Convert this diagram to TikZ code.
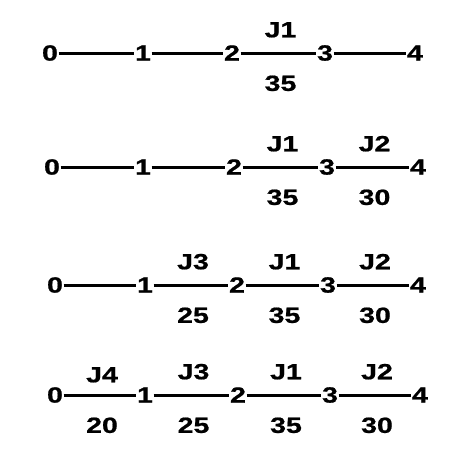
\documentclass[tikz,border=0pt]{standalone}
\usepackage{fontspec}
\setmainfont{Liberation Sans}[FakeStretch=1.3, BoldFeatures={FakeBold=0.8}]
\usepackage{tikz}
\usetikzlibrary{positioning}

\begin{document}
\begin{tikzpicture}[
    x=1pt, y=-1pt,
    event/.style={inner sep=0.5pt, font=\fontsize{22}{26}\selectfont\bfseries},
    job/.style={above=14pt, inner sep=0pt, xshift=2pt, font=\fontsize{22}{26}\selectfont\bfseries},
    dur/.style={below=21pt, inner sep=0pt, xshift=2pt, font=\fontsize{22}{26}\selectfont\bfseries},
    act/.style={line width=3pt}
]
\useasboundingbox (0,0) rectangle (474,463);

% schedule with J1
\node[event] (a0) at (50, 53) {0};
\node[event] (a1) at (143, 53) {1};
\node[event] (a2) at (232, 53) {2};
\node[event] (a3) at (325, 53) {3};
\node[event] (a4) at (415, 53) {4};
\draw[act] (a0) -- (a1);
\draw[act] (a1) -- (a2);
\draw[act] (a2) -- node[job] {J1} node[dur] {35} (a3);
\draw[act] (a3) -- (a4);

% J2 added
\node[event] (b0) at (52, 167) {0};
\node[event] (b1) at (143, 167) {1};
\node[event] (b2) at (234, 167) {2};
\node[event] (b3) at (327, 167) {3};
\node[event] (b4) at (418, 167) {4};
\draw[act] (b0) -- (b1);
\draw[act] (b1) -- (b2);
\draw[act] (b2) -- node[job] {J1} node[dur] {35} (b3);
\draw[act] (b3) -- node[job] {J2} node[dur] {30} (b4);

% J3 added
\node[event] (c0) at (55, 285) {0};
\node[event] (c1) at (145, 285) {1};
\node[event] (c2) at (237, 285) {2};
\node[event] (c3) at (328, 285) {3};
\node[event] (c4) at (418, 285) {4};
\draw[act] (c0) -- (c1);
\draw[act] (c1) -- node[job] {J3} node[dur] {25} (c2);
\draw[act] (c2) -- node[job] {J1} node[dur] {35} (c3);
\draw[act] (c3) -- node[job] {J2} node[dur] {30} (c4);

% J4 added
\node[event] (d0) at (55, 395) {0};
\node[event] (d1) at (145, 395) {1};
\node[event] (d2) at (238, 395) {2};
\node[event] (d3) at (330, 395) {3};
\node[event] (d4) at (420, 395) {4};
\draw[act] (d0) -- node[job, above=11pt] {J4} node[dur] {20} (d1);
\draw[act] (d1) -- node[job] {J3} node[dur] {25} (d2);
\draw[act] (d2) -- node[job] {J1} node[dur] {35} (d3);
\draw[act] (d3) -- node[job] {J2} node[dur] {30} (d4);
\end{tikzpicture}
\end{document}
